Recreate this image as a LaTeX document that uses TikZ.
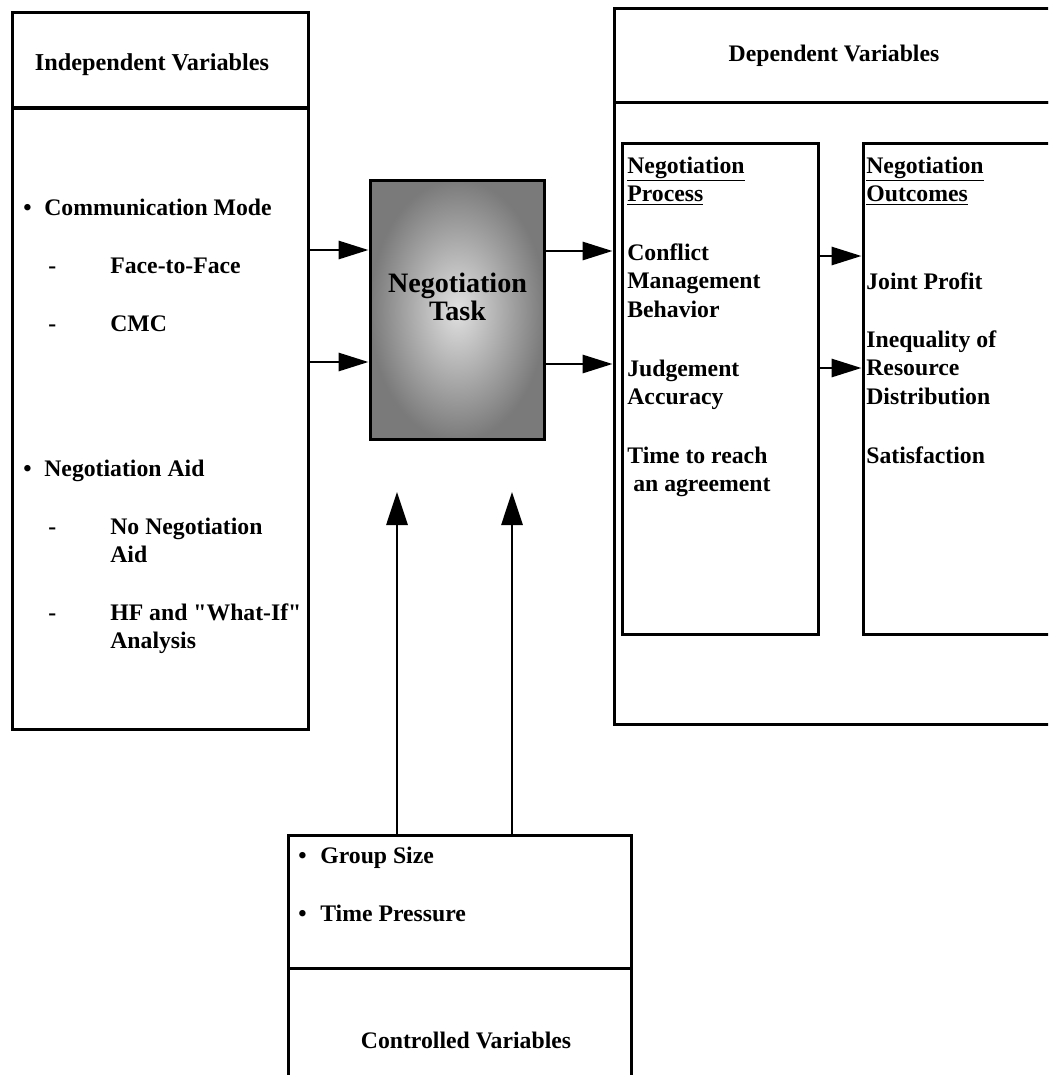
\documentclass[tikz,border=0pt]{standalone}
\usepackage{fontspec}
\setmainfont{Liberation Serif}[Ligatures=TeXOff]
\usetikzlibrary{arrows.meta}
\tikzset{
    frame/.style={
           rectangle,
           draw=black, line width=1.7pt,
           inner sep=0pt,
           },
    itemtext/.style={
           anchor=base west,
           inner sep=0pt,
           font=\fontsize{13.5}{16.44}\selectfont\bfseries,
           },
    headtext/.style={
           itemtext,
           anchor=base,
           },
    flow/.style={-{Triangle[length=0.6cm,width=0.36cm]}, line width=1.7pt},
    upflow/.style={-{Triangle[length=0.66cm,width=0.42cm]}, line width=1.7pt},
}

\begin{document}
\begin{tikzpicture}[x=0.02cm,y=-0.02cm]

 % page frame (pixel grid, y running down)
 \useasboundingbox (0,0) rectangle (1048,1075);
 \clip (0,0) rectangle (1048,1075);

 % Independent Variables
 \node[frame, minimum width=5.94cm, minimum height=1.92cm] (indephead) at (160.5,60) {};
 \node[frame, minimum width=5.94cm, minimum height=12.44cm] (indepbody) at (160.5,419) {};
 \node[headtext, font=\fontsize{13.8}{16.44}\selectfont\bfseries] (indeptitle) at (152,70) {Independent Variables};
 \node[itemtext] (b1) at (23,215) {\textbullet};
 \node[itemtext] (commode) at (44,215) {Communication Mode};
 \node[itemtext] (d1) at (48,273) {-};
 \node[itemtext] (ftf) at (110,273) {Face-to-Face};
 \node[itemtext] (d2) at (48,331) {-};
 \node[itemtext] (cmc) at (110,331) {CMC};
 \node[itemtext] (b2) at (23,476) {\textbullet};
 \node[itemtext] (negaid) at (44,476) {Negotiation Aid};
 \node[itemtext] (d3) at (48,534) {-};
 \node[itemtext] (noaid) at (110,534)
  {\begin{tabular}[t]{@{}l@{}}No Negotiation\\Aid\end{tabular}};
 \node[itemtext] (d4) at (48,620) {-};
 \node[itemtext] (whatif) at (110,620)
  {\begin{tabular}[t]{@{}l@{}}HF and "What-If"\\Analysis\end{tabular}};

 % Negotiation Task
 \node[frame, shade, inner color=black!12, outer color=black!52,
  minimum width=3.5cm, minimum height=5.2cm] (task) at (457.5,310) {};
 \node[headtext, font=\fontsize{16}{16.44}\selectfont\bfseries] (tasktitle) at (457.5,292)
  {\begin{tabular}[t]{@{}c@{}}Negotiation\\Task\end{tabular}};

 % Dependent Variables
 \node[frame, minimum width=9.32cm, minimum height=1.9cm] (dephead) at (847,55.5) {};
 \node[frame, minimum width=9.32cm, minimum height=12.44cm] (depbody) at (847,413.5) {};
 \node[headtext] (deptitle) at (834,61) {Dependent Variables};

 \node[frame, minimum width=3.92cm, minimum height=9.84cm] (process) at (720.5,389) {};
 \node[itemtext] (proctitle) at (627,173)
  {\begin{tabular}[t]{@{}l@{}}\underline{Negotiation}\\\underline{Process}\end{tabular}};
 \node[itemtext] (conflict) at (627,260)
  {\begin{tabular}[t]{@{}l@{}}Conflict\\Management\\Behavior\end{tabular}};
 \node[itemtext] (judge) at (627,376)
  {\begin{tabular}[t]{@{}l@{}}Judgement\\Accuracy\end{tabular}};
 \node[itemtext] (timereach) at (627,463)
  {\begin{tabular}[t]{@{}l@{}}Time to reach\\\ an agreement\end{tabular}};

 \node[frame, minimum width=4.16cm, minimum height=9.84cm] (outcomes) at (967,389) {};
 \node[itemtext] (outtitle) at (866,173)
  {\begin{tabular}[t]{@{}l@{}}\underline{Negotiation}\\\underline{Outcomes}\end{tabular}};
 \node[itemtext] (profit) at (866,289) {Joint Profit};
 \node[itemtext] (inequal) at (866,347)
  {\begin{tabular}[t]{@{}l@{}}Inequality of\\Resource\\Distribution\end{tabular}};
 \node[itemtext] (satis) at (866,463) {Satisfaction};

 % Controlled Variables
 \node[frame, minimum width=6.88cm, minimum height=2.66cm] (ctrlitems) at (460,901.5) {};
 \node[frame, minimum width=6.88cm, minimum height=2.84cm] (ctrlname) at (460,1039) {};
 \node[itemtext] (b3) at (298,863) {\textbullet};
 \node[itemtext] (grpsize) at (320,863) {Group Size};
 \node[itemtext] (b4) at (298,921) {\textbullet};
 \node[itemtext] (timepress) at (320,921) {Time Pressure};
 \node[headtext] (ctrltitle) at (466,1048) {Controlled Variables};

 % connectors
 \draw[flow] (indepbody.east |- 0,250) -- (task.west |- 0,250);
 \draw[flow] (indepbody.east |- 0,362) -- (task.west |- 0,362);
 \draw[flow] (task.east |- 0,251) -- (depbody.west |- 0,251);
 \draw[flow] (task.east |- 0,364) -- (depbody.west |- 0,364);
 \draw[flow] (process.east |- 0,256) -- (outcomes.west |- 0,256);
 \draw[flow] (process.east |- 0,368) -- (outcomes.west |- 0,368);

 \coordinate (sizetip) at (397,492);
 \coordinate (presstip) at (512,492);
 \draw[upflow] (ctrlitems.north -| sizetip) -- (sizetip);
 \draw[upflow] (ctrlitems.north -| presstip) -- (presstip);

\end{tikzpicture}
\end{document}
